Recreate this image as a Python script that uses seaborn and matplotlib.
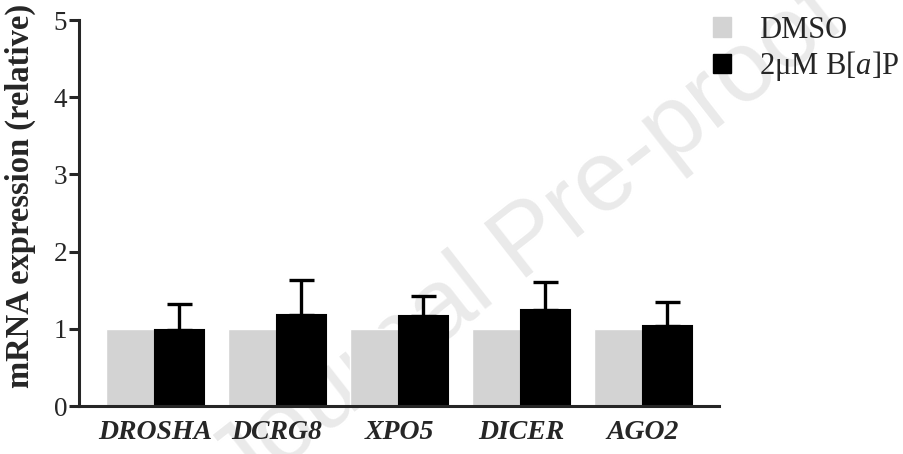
import numpy as np
import pandas as pd
import matplotlib.pyplot as plt
import seaborn as sns

genes = ['DROSHA', 'DCRG8', 'XPO5', 'DICER', 'AGO2']
groups = ['DMSO', '2μM B[a]P']
dmso = [1.0, 1.0, 1.0, 1.0, 1.0]
bap = [0.99, 1.18, 1.16, 1.25, 1.03]
bap_err = [0.33, 0.45, 0.26, 0.35, 0.32]
colors = ['#d3d3d3', '#000000']

df = pd.DataFrame({
    'gene': genes * 2,
    'group': [groups[0]] * len(genes) + [groups[1]] * len(genes),
    'value': dmso + bap,
})

sns.set_style('white')
plt.rcParams['font.family'] = ['Liberation Serif', 'DejaVu Serif']
plt.rcParams['mathtext.fontset'] = 'custom'
plt.rcParams['mathtext.rm'] = 'Liberation Serif'
plt.rcParams['mathtext.it'] = 'Liberation Serif:italic'

fig = plt.figure(figsize=(9.04, 4.54), dpi=100)
ax = fig.add_axes([79 / 904, 48 / 454, 640 / 904, 386 / 454])
ax.set_zorder(1)
ax.patch.set_alpha(0)

# watermark behind the plot
fig.text(0.585, 0.465, 'Journal Pre-proof', rotation=38, fontsize=72,
         family='Liberation Sans', color='#eaeaea', ha='center', va='center',
         zorder=0)

sns.barplot(data=df, x='gene', y='value', hue='group', order=genes,
            hue_order=groups, palette=dict(zip(groups, colors)),
            errorbar=None, width=0.8, saturation=1, ax=ax, legend=False)

for bar in ax.containers[1]:
    bar.set_edgecolor('black')
    bar.set_linewidth(1.5)

xs = [b.get_x() + b.get_width() / 2 for b in ax.containers[1]]
ax.errorbar(xs, bap, yerr=[np.zeros(len(bap)), bap_err], fmt='none',
            ecolor='black', elinewidth=2.4, capsize=9, capthick=2.4, zorder=1)

ax.set_ylim(0, 5)
ax.set_xlim(-0.623, 4.623)
ax.set_yticks(range(6))
ax.set_xlabel('')
ax.set_ylabel('mRNA expression (relative)', fontsize=23.5, fontweight='bold')
ax.yaxis.set_label_coords(-0.067, 0.544)
ax.tick_params(axis='y', length=7.5, width=2.2, pad=1, labelsize=19.5, left=True)
ax.tick_params(axis='x', length=0, pad=10)
plt.setp(ax.get_xticklabels(), fontsize=20, fontweight='bold', style='italic')
sns.despine(ax=ax)
for s in ['left', 'bottom']:
    ax.spines[s].set_linewidth(2.2)

handles = [plt.Rectangle((0, 0), 1, 1, color=c) for c in colors]
fig.legend(handles, ['DMSO', '2μM B[$a$]P'], loc='upper left',
           bbox_to_anchor=(713 / 904, 0.965), frameon=False, fontsize=22,
           handlelength=0.6, handleheight=0.6, handletextpad=0.9,
           labelspacing=0.15, borderpad=0, borderaxespad=0)

fig.savefig('out.png', dpi=100)
